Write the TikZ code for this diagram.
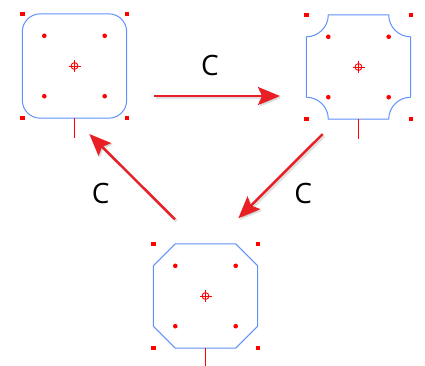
\documentclass[tikz,border=0pt]{standalone}
\usepackage{fontspec}
\setmainfont{Open Sans}
\usetikzlibrary{arrows.meta}
\definecolor{outline}{RGB}{95,145,250}
\definecolor{arrowred}{RGB}{232,32,38}

\begin{document}
\begin{tikzpicture}[x=1pt,y=1pt,
	box/.style={minimum size=104pt, inner sep=0pt},
	edge/.style={draw=outline, line width=1pt},
	move/.style={draw=arrowred, line width=2.4pt, -{Stealth[length=22pt,width=18pt,inset=4pt]},
		preaction={draw=black, opacity=0.12, line width=3pt, transform canvas={shift={(1.5pt,-1.8pt)}}}},
	lbl/.style={font=\fontsize{28}{32}\selectfont}]
	\useasboundingbox (0,0) rectangle (425,365);
	\node[box] (rnd) at (74.5,299) {};
	\node[box] (cnc) at (358.5,298) {};
	\node[box] (oct) at (205.5,69) {};
	\draw[edge, rounded corners=18pt] (rnd.south west) rectangle (rnd.north east);
	\draw[edge] ([xshift=22pt]cnc.north west) -- ([xshift=-22pt]cnc.north east)
		arc[start angle=180, end angle=270, radius=22pt] -- ([yshift=22pt]cnc.south east)
		arc[start angle=90, end angle=180, radius=22pt] -- ([xshift=22pt]cnc.south west)
		arc[start angle=0, end angle=90, radius=22pt] -- ([yshift=-22pt]cnc.north west)
		arc[start angle=270, end angle=360, radius=22pt] -- cycle;
	\draw[edge] ([xshift=22pt]oct.north west) -- ([xshift=-22pt]oct.north east)
		-- ([yshift=-22pt]oct.north east) -- ([yshift=22pt]oct.south east)
		-- ([xshift=-22pt]oct.south east) -- ([xshift=22pt]oct.south west)
		-- ([yshift=22pt]oct.south west) -- ([yshift=-22pt]oct.north west) -- cycle;
	\foreach \s in {rnd,cnc,oct} {
		\foreach \a/\sx/\sy in {north west/1/-1,north east/-1/-1,south west/1/1,south east/-1/1} {
			\fill[red] ([shift={(-2.2pt,-2.2pt)}]\s.\a) rectangle ++(4.4pt,4.4pt);
			\fill[red] ([shift={(\sx*22pt,\sy*22pt)}]\s.\a) circle (2.3pt);
		}
		\draw[red, line width=0.9pt] (\s.center) circle (3.4pt);
		\draw[red, line width=0.8pt] ([xshift=-6pt]\s.center) -- ([xshift=6pt]\s.center);
		\draw[red, line width=0.8pt] ([yshift=-6pt]\s.center) -- ([yshift=6pt]\s.center);
		\draw[red, line width=1pt] (\s.south) -- ++(0,-20pt);
	}
	\coordinate (a1) at (154,269);
	\coordinate (b1) at (280,269);
	\coordinate (a2) at (322.7,231);
	\coordinate (b2) at (238.3,146.7);
	\coordinate (a3) at (175,145.7);
	\coordinate (b3) at (89.3,231);
	\draw[move] (a1) -- (b1);
	\draw[move] (a2) -- (b2);
	\draw[move] (a3) -- (b3);
	\node[lbl] (c1) at (210,300) {C};
	\node[lbl] (c2) at (303.3,171.7) {C};
	\node[lbl] (c3) at (100.7,171.7) {C};
\end{tikzpicture}
\end{document}
